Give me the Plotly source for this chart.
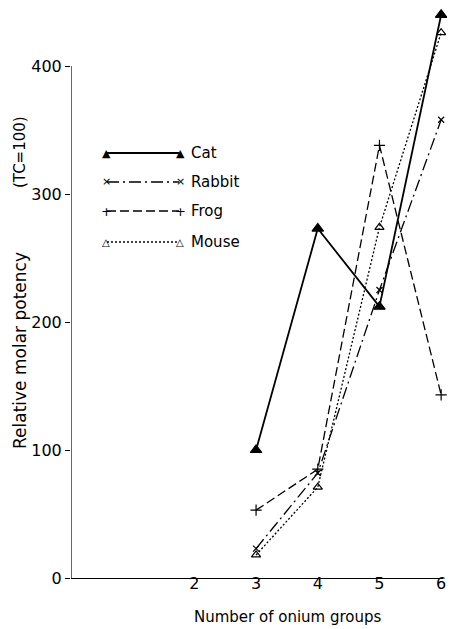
import plotly.graph_objects as go

onium_groups = [3, 4, 5, 6]
cat = [100, 273, 212, 440]
rabbit = [23, 82, 225, 358]
frog = [53, 85, 338, 143]
mouse = [18, 71, 274, 426]

series_names = ["Cat", "Rabbit", "Frog", "Mouse"]
series_values = [cat, rabbit, frog, mouse]
x_tick_vals = [2, 3, 4, 5, 6]
y_tick_vals = [0, 100, 200, 300, 400]

styles = {
    "Cat": dict(dash="solid", symbol="triangle-up", width=1.8, size=10),
    "Rabbit": dict(dash="12px,4px,2px,4px", symbol="x-thin", width=1.3, size=6),
    "Frog": dict(dash="9px,4px", symbol="cross-thin", width=1.3, size=8),
    "Mouse": dict(dash="2px,2px", symbol="triangle-up-open", width=1.3, size=8),
}

FONT = "DejaVu Sans"
# The page body has an 8px margin; visible area is 8..447 horizontally.
OFF = 8
W, H = 455 - 2 * OFF, 629 - OFF
# plot area in screenshot pixels
SL, SR, ST, SB = 71, 443, 8, 578

fig = go.Figure()
for name, vals in zip(series_names, series_values):
    s = styles[name]
    fig.add_trace(go.Scatter(
        x=onium_groups, y=vals, mode="lines+markers", name=name,
        line=dict(color="black", width=s["width"], dash=s["dash"]),
        marker=dict(symbol=s["symbol"], size=s["size"], color="black",
                    line=dict(color="black", width=1.2)),
        showlegend=False, cliponaxis=False,
    ))

# y axis line from 0 to 400 only
fig.add_shape(type="line", xref="x", yref="y", x0=0, x1=0, y0=0, y1=400,
              line=dict(color="black", width=1.2))

def px(x):
    return (x - SL) / (SR - SL)
def py(y):
    return (SB - y) / (SB - ST)

legend_rows = [153, 182, 211, 242]
marker_chars = {"Cat": "▲", "Rabbit": "×", "Frog": "+", "Mouse": "△"}
marker_sizes = {"Cat": 11, "Rabbit": 11, "Frog": 13, "Mouse": 10}
for name, yy in zip(series_names, legend_rows):
    s = styles[name]
    fig.add_shape(type="line", xref="paper", yref="paper",
                  x0=px(107), x1=px(179), y0=py(yy), y1=py(yy),
                  line=dict(color="black", width=s["width"], dash=s["dash"]))
    for xx in (106, 180):
        fig.add_annotation(x=px(xx), y=py(yy), xref="paper", yref="paper",
                           text=marker_chars[name], showarrow=False,
                           font=dict(family=FONT, size=marker_sizes[name], color="black"),
                           xanchor="center", yanchor="middle")
    fig.add_annotation(x=px(189), y=py(yy), xref="paper", yref="paper",
                       text=name, showarrow=False,
                       font=dict(family=FONT, size=15, color="black"),
                       xanchor="left", yanchor="middle")

# Axis titles as annotations
fig.add_annotation(x=px(288), y=py(617), xref="paper", yref="paper",
                   text="Number of onium groups", showarrow=False,
                   font=dict(family=FONT, size=15, color="black"),
                   xanchor="center", yanchor="middle")
fig.add_annotation(x=px(20), y=py(351), xref="paper", yref="paper",
                   text="Relative molar potency", showarrow=False, textangle=-90,
                   font=dict(family=FONT, size=17, color="black"),
                   xanchor="center", yanchor="middle")
fig.add_annotation(x=px(20), y=py(152), xref="paper", yref="paper",
                   text="(TC=100)", showarrow=False, textangle=-90,
                   font=dict(family=FONT, size=15, color="black"),
                   xanchor="center", yanchor="middle")

y_top = (SB - ST) / 128 * 100  # 128 px per 100 units
fig.update_layout(
    width=W, height=H,
    margin=dict(l=SL - OFF, r=W - (SR - OFF), t=ST - OFF, b=H - (SB - OFF), autoexpand=False),
    paper_bgcolor="white", plot_bgcolor="white",
    font=dict(family=FONT, size=16, color="black"),
    xaxis=dict(range=[0, 6.03], tickvals=x_tick_vals, ticks="", showgrid=False,
               zeroline=False, showline=True, linecolor="black", linewidth=1.2,
               tickfont=dict(size=16), ticklabelstandoff=-9, automargin=False),
    yaxis=dict(range=[0, y_top], tickvals=y_tick_vals, ticks="outside", ticklen=5,
               tickcolor="black", showgrid=False, zeroline=False, showline=False,
               tickfont=dict(size=16), automargin=False),
)

fig.write_html("out.html")
